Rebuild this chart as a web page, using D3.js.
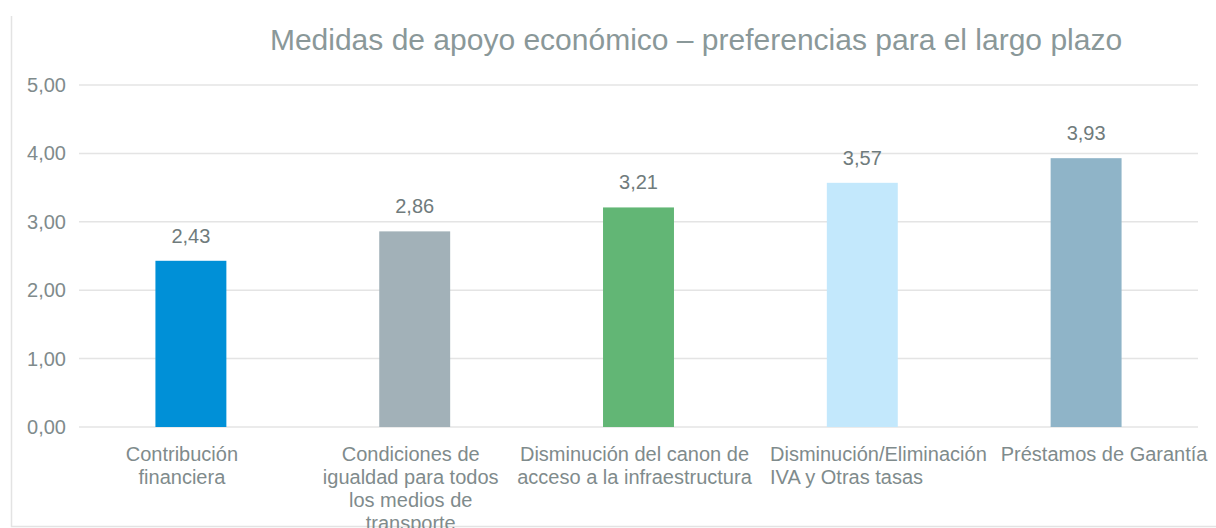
<!DOCTYPE html>
<html>
<head>
<meta charset="utf-8">
<script src="https://cdn.jsdelivr.net/npm/d3@7"></script>
<style>
  body { margin: 0; background: #fff; }
  svg text { font-family: "Liberation Sans", Arial, sans-serif; }
</style>
</head>
<body>
<div class="bar-chart"></div>
<script>
// chart data
var categories = [
  ["Contribución", "financiera"],
  ["Condiciones de", "igualdad para todos", "los medios de", "transporte"],
  ["Disminución del canon de", "acceso a la infraestructura"],
  ["Disminución/Eliminación", "IVA y Otras tasas"],
  ["Préstamos de Garantía"]
];
var values = [2.43, 2.86, 3.21, 3.57, 3.93];
var barColors = ["#0090D7", "#A2B1B8", "#62B675", "#C3E8FC", "#8FB4C8"];
var yTicks = [0, 1, 2, 3, 4, 5];
var title = "Medidas de apoyo económico – preferencias para el largo plazo";

var width = 1216, height = 528;
var margin = { top: 85, right: 18, bottom: 101, left: 79 };
var textColor = "#7F8B8C";

var svg = d3.select(".bar-chart").append("svg")
  .attr("width", width).attr("height", height);

// outer frame (only left and bottom edges are visible)
svg.append("path")
  .attr("d", "M11.5,16 V526.5 H1216")
  .attr("fill", "none")
  .attr("stroke", "#E3E3E3")
  .attr("stroke-width", 1.5);

var x = d3.scaleBand()
  .domain(d3.range(values.length))
  .range([margin.left, width - margin.right])
  .paddingInner(0.683)
  .paddingOuter(0.3415);

var y = d3.scaleLinear()
  .domain([0, 5])
  .range([height - margin.bottom, margin.top]);

svg.append("text")
  .attr("x", 696)
  .attr("y", 50)
  .attr("text-anchor", "middle")
  .style("fill", "#8A9899")
  .style("font-size", "30px")
  .text(title);

// gridlines
svg.append("g")
  .selectAll("line")
  .data(yTicks)
  .enter().append("line")
  .attr("x1", margin.left)
  .attr("x2", width - margin.right)
  .attr("y1", function (d) { return y(d); })
  .attr("y2", function (d) { return y(d); })
  .attr("stroke", "#E4E4E4")
  .attr("stroke-width", 1.5);

// y axis labels
var yAxis = svg.append("g")
  .attr("transform", "translate(66,0)")
  .call(d3.axisLeft(y).tickValues(yTicks).tickSize(0).tickPadding(0)
    .tickFormat(function (d) { return d3.format(".2f")(d).replace(".", ","); }));
yAxis.select(".domain").remove();
yAxis.selectAll("text")
  .style("fill", textColor)
  .style("font-size", "20px")
  .attr("font-family", null);

// bars
svg.append("g")
  .selectAll("rect")
  .data(values)
  .enter().append("rect")
  .attr("x", function (d, i) { return x(i); })
  .attr("y", function (d) { return y(d); })
  .attr("width", x.bandwidth())
  .attr("height", function (d) { return y(0) - y(d); })
  .attr("fill", function (d, i) { return barColors[i]; });

// value labels
svg.append("g")
  .selectAll("text")
  .data(values)
  .enter().append("text")
  .attr("x", function (d, i) { return x(i) + x.bandwidth() / 2; })
  .attr("y", function (d) { return y(d) - 18; })
  .attr("text-anchor", "middle")
  .style("fill", "#6F7B7C")
  .style("font-size", "20px")
  .text(function (d) { return d3.format(".2f")(d).replace(".", ","); });

// category labels
var labelOffsets = [-9, -4, -4, 0, 18];
var catGroup = svg.append("g")
  .selectAll("text")
  .data(categories)
  .enter().append("text")
  .attr("text-anchor", function (d, i) { return i === 3 ? "start" : "middle"; })
  .attr("transform", function (d, i) {
    var cx = x(i) + x.bandwidth() / 2 + labelOffsets[i];
    if (i === 3) cx = 770;
    return "translate(" + cx + ",461)";
  })
  .style("fill", textColor)
  .style("font-size", "20px");

catGroup.selectAll("tspan")
  .data(function (d) { return d; })
  .enter().append("tspan")
  .attr("x", 0)
  .attr("dy", function (d, i) { return i === 0 ? 0 : 23; })
  .text(function (d) { return d; });
</script>
</body>
</html>
